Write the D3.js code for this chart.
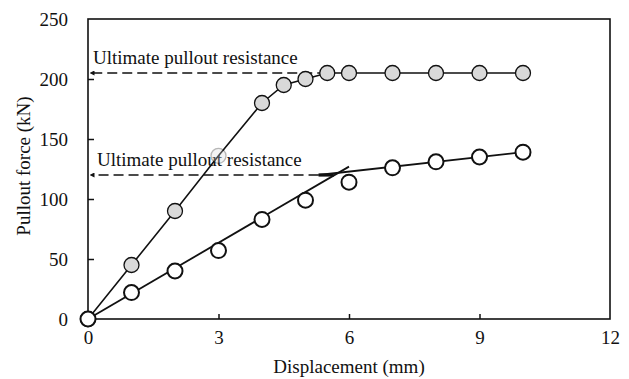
<!DOCTYPE html>
<html>
<head>
<meta charset="utf-8">
<script src="https://cdn.jsdelivr.net/npm/d3@7"></script>
<style>
  body { margin: 0; background: #fff; }
  text { font-family: "Liberation Serif", "Times New Roman", serif; font-size: 19px; fill: #111; }
</style>
</head>
<body>
<div id="chart"></div>
<script>
// displacement (mm) and pullout force (kN)
const dispA = [0, 1, 2, 3, 4, 4.5, 5, 5.5, 6, 7, 8, 9, 10];
const forceA = [0, 45, 90, 136, 180, 195, 200, 205, 205, 205, 205, 205, 205];
const dispB = [0, 1, 2, 3, 4, 5, 6, 7, 8, 9, 10];
const forceB = [0, 22, 40, 57, 83, 99, 114, 126, 131, 135, 139];

// fitted lines for series B
const fit1 = [[0, 0], [6, 127]];
const fit2 = [[5.3, 120], [10, 139]];

// ultimate pullout resistance annotations
const ultValues = [205, 120];
const ultEnds = [5.5, 5.3];
const ultLabel = "Ultimate pullout resistance";

const xTicks = [0, 3, 6, 9, 12];
const yTicks = [0, 50, 100, 150, 200, 250];

const width = 629, height = 379;
const margin = { top: 19, right: 19, bottom: 60, left: 88 };

const svg = d3.select("#chart").append("svg")
  .attr("width", width)
  .attr("height", height);

const x = d3.scaleLinear().domain([0, 12]).range([margin.left, width - margin.right]);
const y = d3.scaleLinear().domain([0, 250]).range([height - margin.bottom, margin.top]);

svg.append("defs").append("marker")
  .attr("id", "arrow")
  .attr("viewBox", "0 0 10 10")
  .attr("refX", 1).attr("refY", 5)
  .attr("markerWidth", 5).attr("markerHeight", 5)
  .attr("markerUnits", "userSpaceOnUse")
  .attr("orient", "auto-start-reverse")
  .append("path")
  .attr("d", "M0,0 L10,5 L0,10 z")
  .attr("fill", "#111");

// axes with inward ticks
const xAxis = d3.axisBottom(x).tickValues(xTicks).tickSizeInner(-5).tickSizeOuter(0).tickPadding(12);
const yAxis = d3.axisLeft(y).tickValues(yTicks).tickSizeInner(-6).tickSizeOuter(0).tickPadding(20);

const gx = svg.append("g")
  .attr("transform", `translate(0,${y(0)})`)
  .call(xAxis);
const gy = svg.append("g")
  .attr("transform", `translate(${x(0)},0)`)
  .call(yAxis);

[gx, gy].forEach(g => {
  g.select(".domain").remove();
  g.selectAll(".tick line").attr("stroke", "#111").attr("stroke-width", 1.5);
  g.selectAll(".tick text").style("font-size", "19px").attr("fill", "#111")
    .style("font-family", "'Liberation Serif', serif");
});
gx.selectAll(".tick text").attr("dy", "0.71em");
gy.selectAll(".tick").filter(d => d === 0 || d === 250).select("line").remove();
gx.selectAll(".tick").filter(d => d === 0 || d === 12).select("line").remove();

// frame
svg.append("rect")
  .attr("x", x(0)).attr("y", y(250))
  .attr("width", x(12) - x(0)).attr("height", y(0) - y(250))
  .attr("fill", "none").attr("stroke", "#111").attr("stroke-width", 1.6);

// axis titles
svg.append("text")
  .attr("x", (x(0) + x(12)) / 2)
  .attr("y", 373)
  .attr("text-anchor", "middle")
  .text("Displacement (mm)");

svg.append("text")
  .attr("transform", `translate(30,${166}) rotate(-90)`)
  .attr("text-anchor", "middle")
  .text("Pullout force (kN)");

// ultimate pullout resistance arrows
ultValues.forEach((v, i) => {
  svg.append("line")
    .attr("x1", x(ultEnds[i])).attr("y1", y(v))
    .attr("x2", x(0) + 6).attr("y2", y(v))
    .attr("stroke", "#111").attr("stroke-width", 1.6)
    .attr("stroke-dasharray", "10,5")
    .attr("marker-end", "url(#arrow)");
});
svg.append("text").attr("x", 93).attr("y", y(ultValues[0]) - 9).text(ultLabel);
svg.append("text").attr("x", 97).attr("y", y(ultValues[1]) - 9).text(ultLabel);
// thick overlap where the dashed line meets the fit
svg.append("line")
  .attr("x1", x(fit2[0][0])).attr("y1", y(ultValues[1]))
  .attr("x2", x(fit2[0][0] + 0.35)).attr("y2", y(ultValues[1]))
  .attr("stroke", "#111").attr("stroke-width", 3.2);

const line = d3.line().x(d => x(d[0])).y(d => y(d[1]));

// series A polyline
svg.append("path")
  .datum(dispA.map((d, i) => [d, forceA[i]]))
  .attr("d", line)
  .attr("fill", "none").attr("stroke", "#111").attr("stroke-width", 1.6);

// series B fitted lines
[fit1, fit2].forEach(f => {
  svg.append("path")
    .datum(f)
    .attr("d", line)
    .attr("fill", "none").attr("stroke", "#111").attr("stroke-width", 1.8);
});

// series A markers
svg.append("g").selectAll("circle")
  .data(dispA.map((d, i) => [d, forceA[i]]))
  .enter().append("circle")
  .attr("cx", d => x(d[0]))
  .attr("cy", d => y(d[1]))
  .attr("r", 7.5)
  .attr("fill", "#d9d9d9")
  .attr("stroke", "#111")
  .attr("stroke-width", 1.3)
  .attr("opacity", (d, i) => i === 3 ? 0.3 : 1);

// series B markers
svg.append("g").selectAll("circle")
  .data(dispB.map((d, i) => [d, forceB[i]]))
  .enter().append("circle")
  .attr("cx", d => x(d[0]))
  .attr("cy", d => y(d[1]))
  .attr("r", 7.5)
  .attr("fill", "#fff")
  .attr("stroke", "#111")
  .attr("stroke-width", 2);
</script>
</body>
</html>
